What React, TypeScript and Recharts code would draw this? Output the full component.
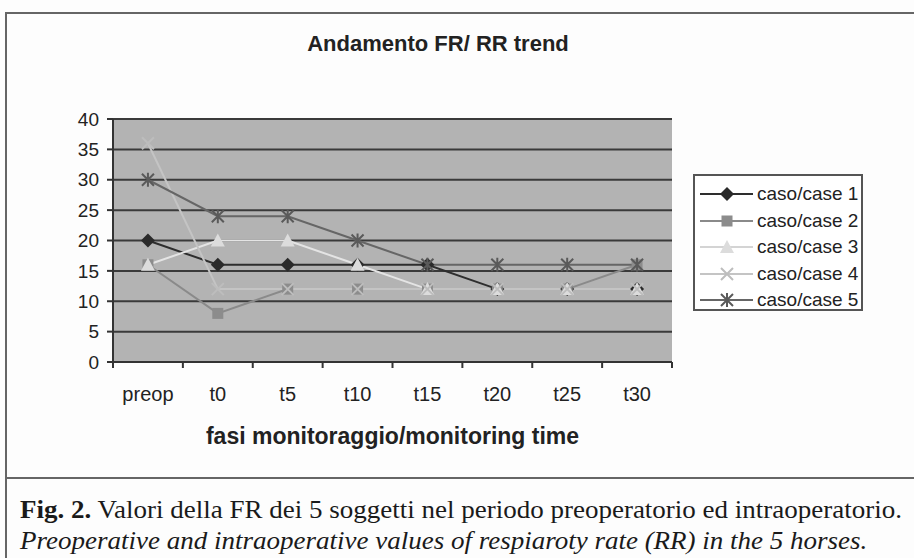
import { LineChart, Line, XAxis, YAxis, CartesianGrid, Legend } from 'recharts';

// fasi di monitoraggio
const PHASES = ['preop', 't0', 't5', 't10', 't15', 't20', 't25', 't30'];

// frequenza respiratoria (atti/min) per soggetto
const CASE_1 = [20, 16, 16, 16, 16, 12, 12, 12];
const CASE_2 = [16, 8, 12, 12, 12, 12, 12, 16];
const CASE_3 = [16, 20, 20, 16, 12, 12, 12, 12];
const CASE_4 = [36, 12, 12, 12, 12, 12, 12, 12];
const CASE_5 = [30, 24, 24, 20, 16, 16, 16, 16];

const CASE_NAMES = ['caso/case 1', 'caso/case 2', 'caso/case 3', 'caso/case 4', 'caso/case 5'];
const Y_TICKS = [0, 5, 10, 15, 20, 25, 30, 35, 40];

const W = 914;
const H = 558;
const CHART_H = 478;
const PLOT_LEFT = 113;
const PLOT_RIGHT = 672;
const PLOT_TOP = 119;
const PLOT_BOTTOM = 362;
const Y_AXIS_W = 60;
const X_AXIS_H = 30;
const BAND = (PLOT_RIGHT - PLOT_LEFT) / PHASES.length;

const SANS = "'Liberation Sans', Arial, sans-serif";
const SERIF = "'Liberation Serif', 'Times New Roman', serif";

type Shape = 'diamond' | 'square' | 'triangle' | 'cross' | 'star';

const STYLES: Record<string, { shape: Shape; line: string; mark: string }> = {
  c1: { shape: 'diamond', line: '#2e2e2e', mark: '#2a2a2a' },
  c2: { shape: 'square', line: '#8a8a8a', mark: '#8c8c8c' },
  c3: { shape: 'triangle', line: '#e4e4e4', mark: '#dcdcdc' },
  c4: { shape: 'cross', line: '#c4c4c4', mark: '#bdbdbd' },
  c5: { shape: 'star', line: '#666666', mark: '#5a5a5a' },
};

const data = PHASES.map((p, i) => ({
  phase: p,
  c1: CASE_1[i],
  c2: CASE_2[i],
  c3: CASE_3[i],
  c4: CASE_4[i],
  c5: CASE_5[i],
}));

function Marker({ cx, cy, shape, color }: { cx: number; cy: number; shape: Shape; color: string }) {
  if (cx == null || cy == null) return null;
  switch (shape) {
    case 'diamond':
      return <path d={`M${cx},${cy - 7}L${cx + 7},${cy}L${cx},${cy + 7}L${cx - 7},${cy}Z`} fill={color} />;
    case 'square':
      return <rect x={cx - 5.5} y={cy - 5.5} width={11} height={11} fill={color} />;
    case 'triangle':
      return <path d={`M${cx},${cy - 7}L${cx + 7},${cy + 6}L${cx - 7},${cy + 6}Z`} fill={color} />;
    case 'cross':
      return (
        <path
          d={`M${cx - 6},${cy - 6}L${cx + 6},${cy + 6}M${cx + 6},${cy - 6}L${cx - 6},${cy + 6}`}
          stroke={color}
          strokeWidth={2}
        />
      );
    case 'star':
      return (
        <path
          d={`M${cx - 6},${cy - 6}L${cx + 6},${cy + 6}M${cx + 6},${cy - 6}L${cx - 6},${cy + 6}M${cx},${cy - 7}L${cx},${cy + 7}`}
          stroke={color}
          strokeWidth={2}
        />
      );
  }
  return null;
}

function makeDot(key: string) {
  const s = STYLES[key];
  return (props: any) => (
    <Marker key={`${key}-${props.index}`} cx={props.cx} cy={props.cy} shape={s.shape} color={s.mark} />
  );
}

function CategoryTick(props: any) {
  const { x, y, payload, index } = props;
  const axisY = y - 6;
  return (
    <g>
      <line x1={x - BAND / 2} y1={axisY} x2={x - BAND / 2} y2={axisY + 6} stroke="#333" strokeWidth={2} />
      {index === PHASES.length - 1 && (
        <line x1={x + BAND / 2} y1={axisY} x2={x + BAND / 2} y2={axisY + 6} stroke="#333" strokeWidth={2} />
      )}
      <text x={x} y={axisY + 39} textAnchor="middle" fontFamily={SANS} fontSize={20} fill="#222">
        {payload.value}
      </text>
    </g>
  );
}

function LegendBox({ payload }: any) {
  return (
    <div
      style={{
        boxSizing: 'border-box',
        width: 170,
        height: 137,
        border: '2px solid #555',
        background: '#fff',
        paddingTop: 5,
      }}
    >
      {(payload || []).map((entry: any) => {
        const s = STYLES[entry.dataKey];
        return (
          <div key={entry.dataKey} style={{ display: 'flex', alignItems: 'center', height: 26.5 }}>
            <svg width={62} height={20} style={{ flex: 'none' }}>
              <line x1={5} y1={10} x2={58} y2={10} stroke={s.line === '#e4e4e4' ? '#d4d4d4' : s.line} strokeWidth={2} />
              <Marker cx={32} cy={10} shape={s.shape} color={s.mark} />
            </svg>
            <span style={{ fontFamily: SANS, fontSize: 19, color: '#222', whiteSpace: 'nowrap' }}>{entry.value}</span>
          </div>
        );
      })}
    </div>
  );
}

export default function App() {
  const keys = ['c1', 'c2', 'c3', 'c4', 'c5'];
  return (
    <div style={{ position: 'absolute', left: 0, top: 0, width: W, height: H, background: '#fdfdfd', overflow: 'hidden' }}>
      {/* cornice della figura */}
      <div style={{ position: 'absolute', left: 5, top: 12, width: W, height: H, borderLeft: '2px solid #666', borderTop: '2px solid #666' }} />
      <div style={{ position: 'absolute', left: 5, top: 477, width: W, height: 0, borderTop: '2px solid #666' }} />

      <div
        style={{
          position: 'absolute',
          left: 0,
          width: 876,
          top: 31,
          textAlign: 'center',
          fontFamily: SANS,
          fontWeight: 'bold',
          fontSize: 22,
          color: '#222',
        }}
      >
        Andamento FR/ RR trend
      </div>

      <div style={{ position: 'absolute', left: 0, top: 0 }}>
        <LineChart
          width={W}
          height={CHART_H}
          data={data}
          margin={{
            top: PLOT_TOP,
            right: W - PLOT_RIGHT,
            left: PLOT_LEFT - Y_AXIS_W,
            bottom: CHART_H - PLOT_BOTTOM - X_AXIS_H,
          }}
        >
          <CartesianGrid vertical={false} fill="#b3b3b3" stroke="#3a3a3a" strokeWidth={2} />
          <XAxis
            dataKey="phase"
            height={X_AXIS_H}
            padding={{ left: BAND / 2, right: BAND / 2 }}
            tickLine={false}
            tickSize={6}
            tickMargin={0}
            axisLine={{ stroke: '#333', strokeWidth: 2 }}
            tick={<CategoryTick />}
            interval={0}
          />
          <YAxis
            width={Y_AXIS_W}
            domain={[0, 40]}
            ticks={Y_TICKS}
            interval={0}
            tickSize={6}
            tickMargin={8}
            tickLine={{ stroke: '#333', strokeWidth: 2 }}
            axisLine={{ stroke: '#333', strokeWidth: 2 }}
            tick={{ fontFamily: SANS, fontSize: 19, fill: '#222' }}
          />
          <YAxis
            yAxisId="edge"
            orientation="right"
            width={0}
            domain={[0, 40]}
            tick={false}
            tickLine={false}
            axisLine={{ stroke: '#8a8a8a', strokeWidth: 2 }}
          />
          <Legend
            layout="horizontal"
            align="center"
            verticalAlign="middle"
            wrapperStyle={{ left: 693, top: 174, width: 170, height: 137 }}
            content={<LegendBox />}
          />
          {keys.map((k, i) => (
            <Line
              key={k}
              type="linear"
              dataKey={k}
              name={CASE_NAMES[i]}
              stroke={STYLES[k].line}
              strokeWidth={2}
              dot={makeDot(k)}
              activeDot={false}
              isAnimationActive={false}
            />
          ))}
        </LineChart>
      </div>

      <div
        style={{
          position: 'absolute',
          left: PLOT_LEFT,
          width: PLOT_RIGHT - PLOT_LEFT,
          top: 423,
          textAlign: 'center',
          fontFamily: SANS,
          fontWeight: 'bold',
          fontSize: 23,
          color: '#222',
        }}
      >
        fasi monitoraggio/monitoring time
      </div>

      <div
        style={{
          position: 'absolute',
          left: 20,
          top: 494,
          fontFamily: SERIF,
          fontSize: 25,
          color: '#1a1a1a',
          lineHeight: '31px',
          whiteSpace: 'nowrap',
          transform: 'scaleX(1.08)',
          transformOrigin: 'left top',
        }}
      >
        <div>
          <b>Fig. 2.</b> Valori della FR dei 5 soggetti nel periodo preoperatorio ed intraoperatorio.
        </div>
        <div style={{ fontStyle: 'italic' }}>
          Preoperative and intraoperative values of respiaroty rate (RR) in the 5 horses.
        </div>
      </div>
    </div>
  );
}
